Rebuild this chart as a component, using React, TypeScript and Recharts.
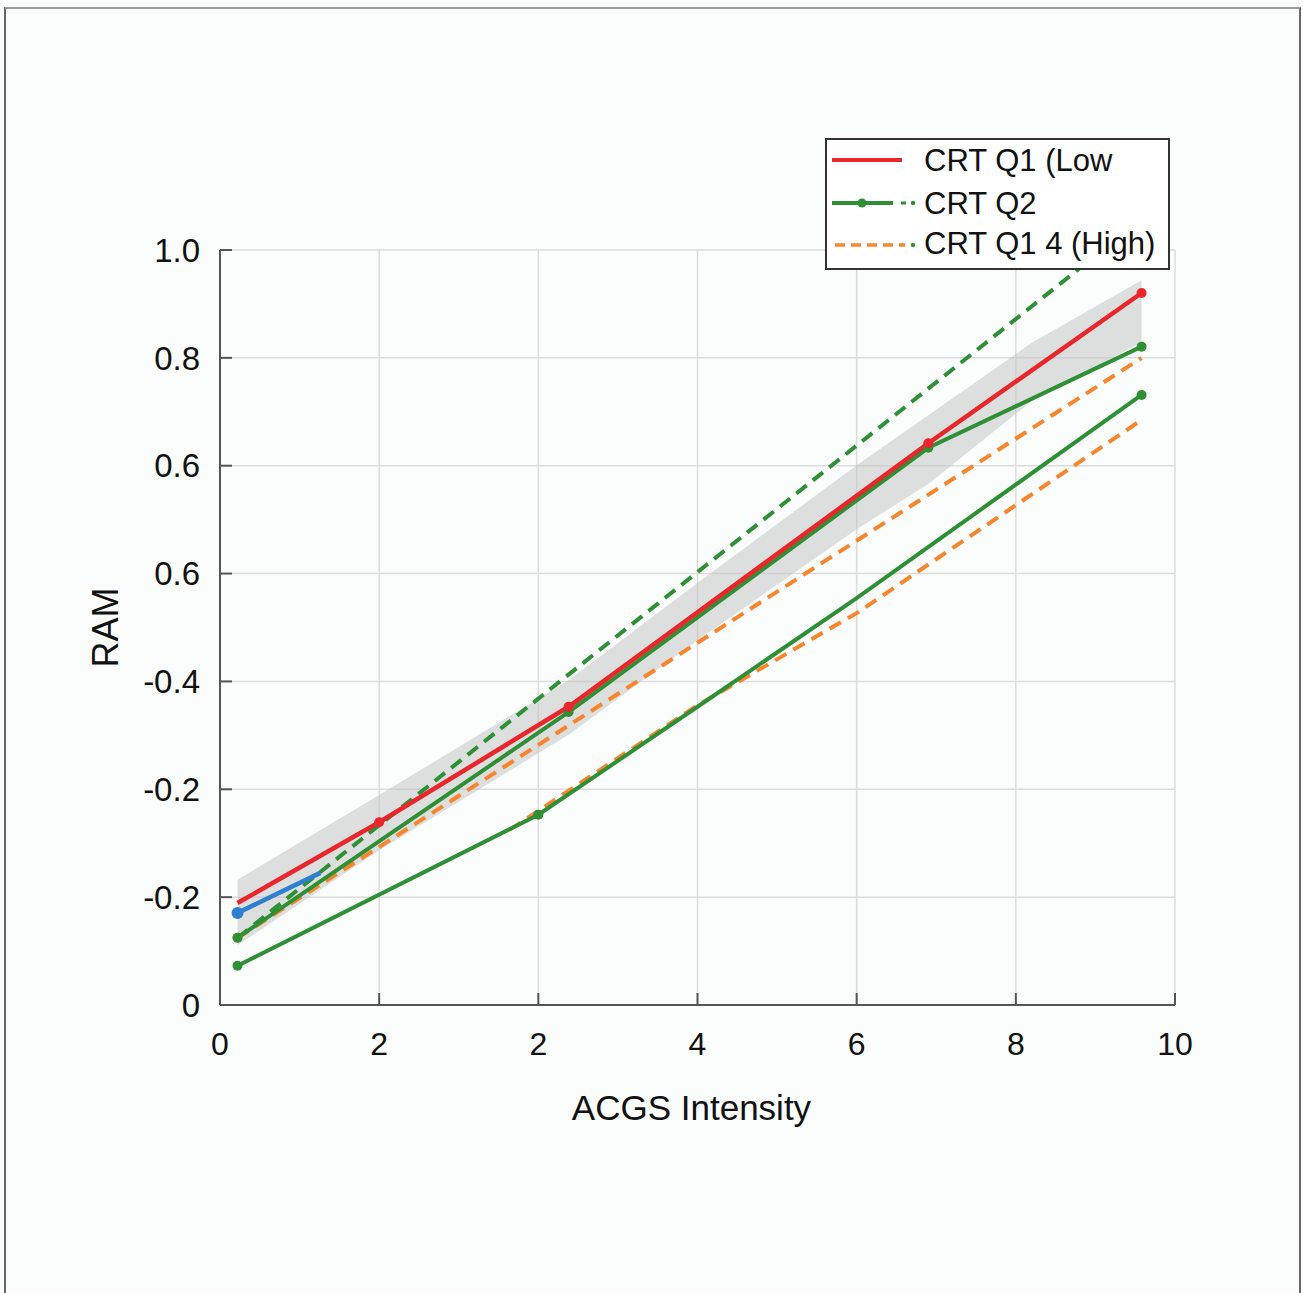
import React from 'react';
import { ComposedChart, Line, Area, XAxis, YAxis, CartesianGrid, Legend } from 'recharts';

// Axis tick labels (as printed in the reference)
const X_TICK_LABELS = ['0', '2', '2', '4', '6', '8', '10'];
const Y_TICK_LABELS = ['0', '-0.2', '-0.2', '-0.4', '0.6', '0.6', '0.8', '1.0'];

// Grey confidence band around CRT Q1 (x in tick-index units, y as fraction of axis height)
const bandX = [0.11, 1.0, 2.19, 3.0, 4.0, 4.45, 5.1, 5.79];
const bandLow = [0.079, 0.205, 0.358, 0.483, 0.63, 0.69, 0.8, 0.878];
const bandHigh = [0.166, 0.278, 0.43, 0.559, 0.715, 0.781, 0.877, 0.96];

// CRT Q1 (Low) - red solid
const q1X = [0.11, 1.0, 2.19, 4.45, 5.79];
const q1Y = [0.135, 0.242, 0.395, 0.744, 0.943];
const q1Marks = [false, true, true, true, true];

// CRT Q2 - green solid (upper)
const q2UpX = [0.11, 2.19, 4.45, 5.79];
const q2UpY = [0.089, 0.388, 0.738, 0.872];
const q2UpMarks = [true, true, true, true];

// CRT Q2 - green solid (lower)
const q2LoX = [0.11, 2.0, 3.0, 4.0, 5.79];
const q2LoY = [0.052, 0.252, 0.395, 0.539, 0.808];
const q2LoMarks = [true, true, false, false, true];

// CRT Q2 - green dashed
const q2DashX = [0.11, 5.79];
const q2DashY = [0.089, 1.041];

// CRT Q1 4 (High) - orange dashed (upper)
const q4UpX = [0.11, 5.79];
const q4UpY = [0.089, 0.857];
const q4UpMarks = [true, false];

// CRT Q1 4 (High) - orange dashed (lower)
const q4LoX = [1.82, 3.0, 4.0, 5.79];
const q4LoY = [0.232, 0.397, 0.519, 0.775];

// Unlabelled blue segment
const blueX = [0.11, 0.63];
const blueY = [0.122, 0.175];
const blueMarks = [true, false];

const RED = '#e8262b';
const GREEN = '#2e8f35';
const ORANGE = '#f7852c';
const BLUE = '#2d7fd0';
const FONT = '"Liberation Sans", Arial, Helvetica, sans-serif';

const X_TICKS = X_TICK_LABELS.map((_, i) => i);
const Y_TICKS = Y_TICK_LABELS.map((_, i) => i / (Y_TICK_LABELS.length - 1));

const zip = (xs: number[], ys: number[]) => xs.map((x, i) => ({ x, y: ys[i] }));
const bandData = bandX.map((x, i) => ({ x, band: [bandLow[i], bandHigh[i]] }));

const markerAt = (marks: boolean[], color: string, r: number) => (props: any) => {
  const { cx, cy, index } = props;
  if (!marks[index] || cx == null || cy == null) return <g key={`m-${index}`} />;
  return <circle key={`m-${index}`} cx={cx} cy={cy} r={r} fill={color} stroke="none" />;
};

const LegendBox = () => (
  <svg width={345} height={132} style={{ display: 'block' }}>
    <rect x={1} y={1} width={343} height={130} fill="#ffffff" stroke="#333" strokeWidth={2} />
    <line x1={7} y1={22} x2={77} y2={22} stroke={RED} strokeWidth={4} />
    <text x={99} y={22} dominantBaseline="central" fontSize={31} fontFamily={FONT} fill="#111">CRT Q1 (Low</text>
    <line x1={7} y1={65} x2={68} y2={65} stroke={GREEN} strokeWidth={4} />
    <circle cx={37} cy={65} r={4.5} fill={GREEN} />
    <line x1={76} y1={65} x2={81} y2={65} stroke={GREEN} strokeWidth={3} />
    <circle cx={88} cy={65} r={2.2} fill={GREEN} />
    <text x={99} y={65} dominantBaseline="central" fontSize={31} fontFamily={FONT} fill="#111">CRT Q2</text>
    <line x1={10} y1={107} x2={80} y2={107} stroke={ORANGE} strokeWidth={3.5} strokeDasharray="10 6" />
    <circle cx={88} cy={107} r={2.2} fill={GREEN} />
    <text x={99} y={105} dominantBaseline="central" fontSize={31} fontFamily={FONT} fill="#111">CRT Q1 4 (High)</text>
  </svg>
);

const XTitle = (props: any) => {
  const vb = props.viewBox || {};
  return (
    <text x={vb.x + vb.width / 2 - 6} y={vb.y + 102} textAnchor="middle" dominantBaseline="central"
      fontSize={35} fontFamily={FONT} fill="#111">ACGS Intensity</text>
  );
};

const YTitle = (props: any) => {
  const vb = props.viewBox || {};
  const cx = vb.x - 55;
  const cy = vb.y + vb.height / 2;
  return (
    <text x={cx} y={cy} transform={`rotate(-90, ${cx}, ${cy})`} textAnchor="middle" dominantBaseline="central"
      fontSize={36} fontFamily={FONT} fill="#111">RAM</text>
  );
};

export default function App() {
  return (
    <div style={{ position: 'absolute', left: 0, top: 0, width: 1303, height: 1293, background: '#fbfcfc', overflow: 'hidden' }}>
      <ComposedChart
        width={1303}
        height={1293}
        data={bandData}
        margin={{ top: 250, right: 128, bottom: 188, left: 160 }}
      >
        <CartesianGrid stroke="#dcdcdc" strokeWidth={1.5} />
        <XAxis
          dataKey="x"
          type="number"
          domain={[0, 6]}
          ticks={X_TICKS}
          tickFormatter={(v: number) => X_TICK_LABELS[Math.round(v)]}
          height={100}
          tickSize={-12}
          tickMargin={39}
          interval={0}
          axisLine={{ stroke: '#555', strokeWidth: 2 }}
          tickLine={{ stroke: '#555', strokeWidth: 2 }}
          tick={{ fill: '#111', fontSize: 32, fontFamily: FONT }}
          label={{ content: XTitle }}
        />
        <YAxis
          type="number"
          domain={[0, 1]}
          allowDataOverflow
          ticks={Y_TICKS}
          tickFormatter={(v: number) => Y_TICK_LABELS[Math.round(v * (Y_TICK_LABELS.length - 1))]}
          width={60}
          tickSize={-12}
          tickMargin={32}
          interval={0}
          axisLine={{ stroke: '#555', strokeWidth: 2 }}
          tickLine={{ stroke: '#555', strokeWidth: 2 }}
          tick={{ fill: '#111', fontSize: 33, fontFamily: FONT }}
          label={{ content: YTitle }}
        />
        <Area
          dataKey="band"
          type="linear"
          fill="#c4c4c4"
          fillOpacity={0.55}
          stroke="none"
          isAnimationActive={false}
          activeDot={false}
        />
        <Line data={zip(q2DashX, q2DashY)} dataKey="y" type="linear" stroke={GREEN} strokeWidth={4}
          strokeDasharray="13 8" dot={false} activeDot={false} isAnimationActive={false} />
        <Line data={zip(q4UpX, q4UpY)} dataKey="y" type="linear" stroke={ORANGE} strokeWidth={4}
          strokeDasharray="13 8" dot={markerAt(q4UpMarks, ORANGE, 5)} activeDot={false} isAnimationActive={false} />
        <Line data={zip(q4LoX, q4LoY)} dataKey="y" type="linear" stroke={ORANGE} strokeWidth={4}
          strokeDasharray="13 8" dot={false} activeDot={false} isAnimationActive={false} />
        <Line data={zip(q2LoX, q2LoY)} dataKey="y" type="linear" stroke={GREEN} strokeWidth={4}
          dot={markerAt(q2LoMarks, GREEN, 5)} activeDot={false} isAnimationActive={false} />
        <Line data={zip(q2UpX, q2UpY)} dataKey="y" type="linear" stroke={GREEN} strokeWidth={4}
          dot={markerAt(q2UpMarks, GREEN, 5)} activeDot={false} isAnimationActive={false} />
        <Line data={zip(q1X, q1Y)} dataKey="y" type="linear" stroke={RED} strokeWidth={4.5}
          dot={markerAt(q1Marks, RED, 5)} activeDot={false} isAnimationActive={false} />
        <Line data={zip(blueX, blueY)} dataKey="y" type="linear" stroke={BLUE} strokeWidth={4.5}
          dot={markerAt(blueMarks, BLUE, 6)} activeDot={false} isAnimationActive={false} />
        <Legend
          layout="horizontal"
          verticalAlign="middle"
          align="center"
          content={() => <LegendBox />}
          wrapperStyle={{ left: 825, top: 138, width: 345, height: 132 }}
        />
      </ComposedChart>
      <div style={{ position: 'absolute', left: 4, top: 7, width: 1297, height: 1310, boxSizing: 'border-box',
        border: '2px solid #666', borderTopColor: '#9a9a9a', pointerEvents: 'none' }} />
    </div>
  );
}
